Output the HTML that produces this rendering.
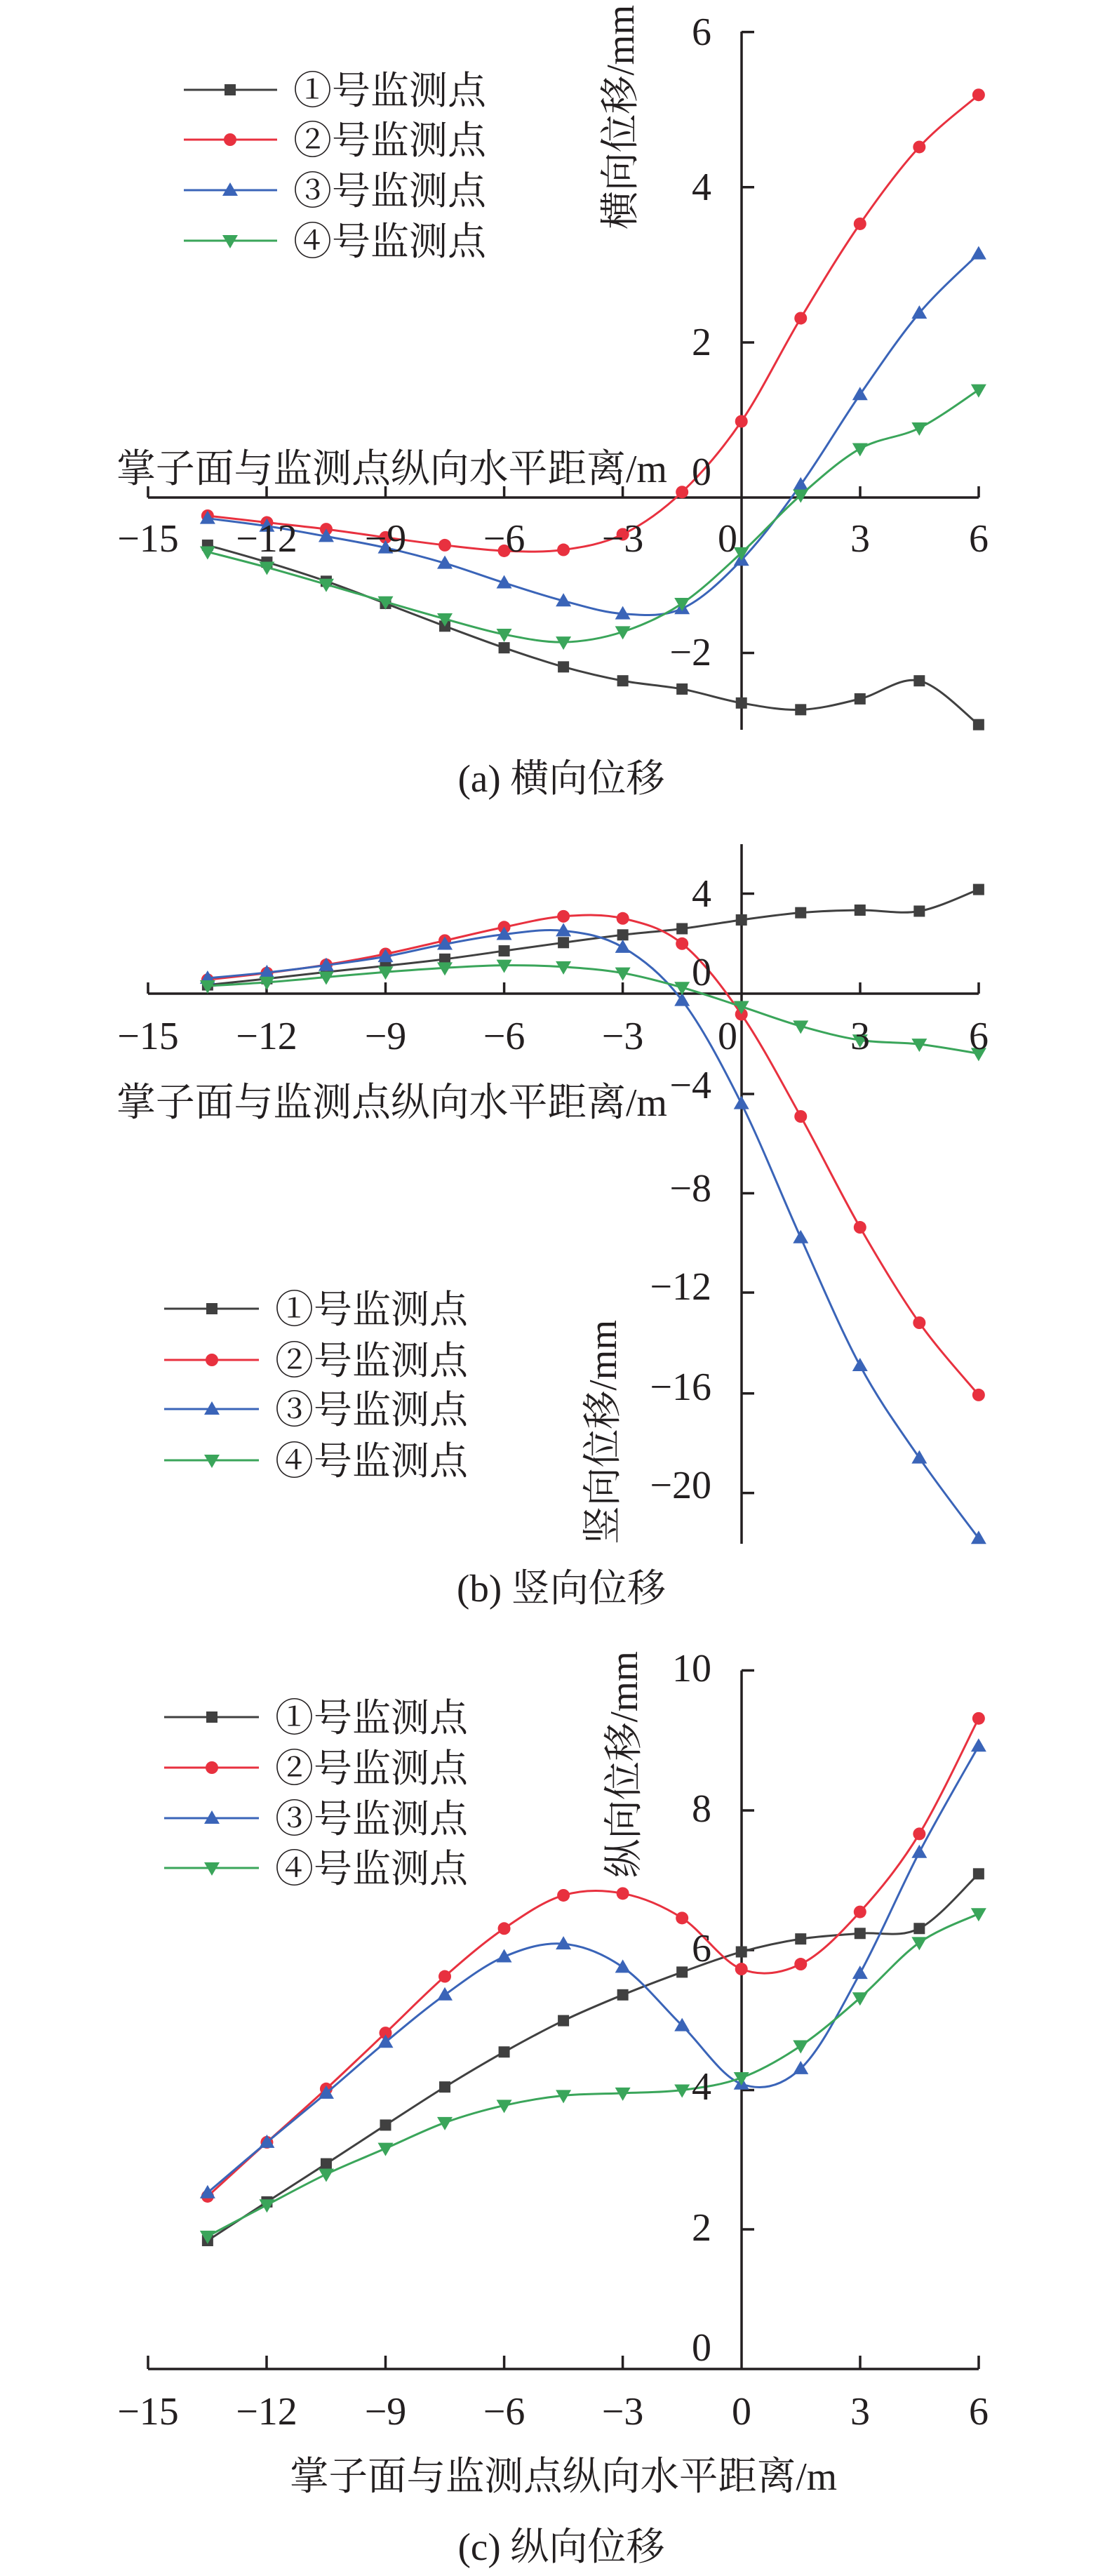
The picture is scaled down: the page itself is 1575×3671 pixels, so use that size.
<!DOCTYPE html>
<html><head><meta charset="utf-8"><style>
html,body{margin:0;padding:0;background:#fff}
svg{display:block}
text{font-family:"Liberation Serif","Noto Serif CJK SC",serif;fill:#231f20}
</style></head><body>
<svg id="s" width="1575" height="3671" viewBox="0 0 1575 3671" xmlns="http://www.w3.org/2000/svg">
<g stroke="#231f20" stroke-width="3.5" fill="none">
<!-- chart a -->
<line x1="1057" y1="45" x2="1057" y2="1040"/>
<line x1="211" y1="709" x2="1395" y2="709"/>
<path d="M1057 45.6H1075M1057 266.8H1075M1057 488H1075M1057 930.5H1075"/>
<path d="M211 709V693M380 709V693M549.5 709V693M718.6 709V693M887.6 709V693M1226 709V693M1395 709V693"/>
<!-- chart b -->
<line x1="1057" y1="1203" x2="1057" y2="2200"/>
<line x1="211" y1="1416" x2="1395" y2="1416"/>
<path d="M1057 1273.5H1075M1057 1559H1075M1057 1700.5H1075M1057 1842H1075M1057 1985.7H1075M1057 2127.6H1075"/>
<path d="M211 1416V1400M380 1416V1400M549.5 1416V1400M718.6 1416V1400M887.6 1416V1400M1226 1416V1400M1395 1416V1400"/>
<!-- chart c -->
<line x1="1057" y1="2380.5" x2="1057" y2="3376"/>
<line x1="211" y1="3376" x2="1395" y2="3376"/>
<path d="M1057 2380.5H1075M1057 2580H1075M1057 2779H1075M1057 2978.5H1075M1057 3177H1075"/>
<path d="M211 3376V3357M380 3376V3357M549.5 3376V3357M718.6 3376V3357M887.6 3376V3357M1226 3376V3357M1395 3376V3357"/>
</g>
<g id="series"></g>
<g font-size="56">
<g text-anchor="middle">
<text x="211" y="786">−15</text><text x="380" y="786">−12</text><text x="549.5" y="786">−9</text><text x="718.6" y="786">−6</text><text x="887.6" y="786">−3</text><text x="1037" y="786">0</text><text x="1226" y="786">3</text><text x="1395" y="786">6</text>
</g>
<g text-anchor="end">
<text x="1014" y="64">6</text><text x="1014" y="285">4</text><text x="1014" y="506">2</text><text x="1014" y="691">0</text><text x="1014" y="948">−2</text>
</g>
<g text-anchor="middle">
<text x="211" y="1495">−15</text><text x="380" y="1495">−12</text><text x="549.5" y="1495">−9</text><text x="718.6" y="1495">−6</text><text x="887.6" y="1495">−3</text><text x="1037" y="1495">0</text><text x="1226" y="1495">3</text><text x="1395" y="1495">6</text>
</g>
<g text-anchor="end">
<text x="1014" y="1292">4</text><text x="1014" y="1404">0</text><text x="1014" y="1565">−4</text><text x="1014" y="1712">−8</text><text x="1014" y="1852">−12</text><text x="1014" y="1995">−16</text><text x="1014" y="2135">−20</text>
</g>
<g text-anchor="middle">
<text x="211" y="3455">−15</text><text x="380" y="3455">−12</text><text x="549.5" y="3455">−9</text><text x="718.6" y="3455">−6</text><text x="887.6" y="3455">−3</text><text x="1057" y="3455">0</text><text x="1226" y="3455">3</text><text x="1395" y="3455">6</text>
</g>
<g text-anchor="end">
<text x="1014" y="2396">10</text><text x="1014" y="2596">8</text><text x="1014" y="2795">6</text><text x="1014" y="2992">4</text><text x="1014" y="3193">2</text><text x="1014" y="3364">0</text>
</g>
</g>
<g font-size="56">
<text x="166" y="687" textLength="785" lengthAdjust="spacingAndGlyphs">掌子面与监测点纵向水平距离/m</text>
<text x="166" y="1590" textLength="785" lengthAdjust="spacingAndGlyphs">掌子面与监测点纵向水平距离/m</text>
<text x="413" y="3548" textLength="780" lengthAdjust="spacingAndGlyphs">掌子面与监测点纵向水平距离/m</text>
<text transform="translate(903,327) rotate(-90)" textLength="320" lengthAdjust="spacingAndGlyphs">横向位移/mm</text>
<text transform="translate(878,2201) rotate(-90)" textLength="320" lengthAdjust="spacingAndGlyphs">竖向位移/mm</text>
<text transform="translate(908,2676) rotate(-90)" textLength="323" lengthAdjust="spacingAndGlyphs">纵向位移/mm</text>
</g>
<g font-size="55" text-anchor="middle">
<text x="800" y="1128">(a) 横向位移</text>
<text x="800" y="2282">(b) 竖向位移</text>
<text x="800" y="3648">(c) 纵向位移</text>
</g>
<g font-size="55">
<text x="418" y="148">①号监测点</text><text x="418" y="219">②号监测点</text><text x="418" y="291">③号监测点</text><text x="418" y="363">④号监测点</text>
<text x="392" y="1885">①号监测点</text><text x="392" y="1958">②号监测点</text><text x="392" y="2028">③号监测点</text><text x="392" y="2101">④号监测点</text>
<text x="392" y="2467">①号监测点</text><text x="392" y="2539">②号监测点</text><text x="392" y="2611">③号监测点</text><text x="392" y="2682">④号监测点</text>
</g>
</svg>
<script>
(function(){
var NS="http://www.w3.org/2000/svg";
var g=document.getElementById('series');
var cols=['#404040','#e8313f','#3a64b8','#3aa55a'];
var xs=[];for(var i=0;i<14;i++)xs.push((294+84*i)*1.0064);
var charts=[
 {off:0,f:0.735,d:[
 [1057,1090,1127,1170,1214,1256,1293,1320,1336,1363,1376,1355,1320,1405],
 [1000,1013,1026,1042,1057,1068,1066,1036,954,817,617,434,285,184],
 [1005,1020,1040,1062,1092,1130,1165,1190,1180,1086,940,765,607,492],
 [1070,1100,1133,1167,1200,1230,1245,1225,1170,1072,960,870,830,756]],
 leg:{x1:262,x2:395,m:328,ys:[128,199,271,343]}},
 {off:1150,f:0.735,d:[
 [345,333,320,308,295,279,263,248,236,219,205,200,202,160],
 [335,322,306,285,259,233,212,216,265,402,600,815,1000,1140],
 [332,321,307,290,266,247,240,272,375,575,835,1083,1262,1418],
 [347,340,330,320,312,307,310,322,350,387,425,452,460,478]],
 leg:{x1:234,x2:369,m:302,ys:[1865,1938,2008,2081]}},
 {off:2300,f:0.8755,d:[
 [1020,957,895,832,770,713,662,620,583,550,529,520,512,423],
 [948,860,773,682,590,512,458,455,495,578,570,485,358,170],
 [942,860,780,697,620,558,537,575,670,765,740,585,388,215],
 [1013,962,912,870,828,800,784,780,775,755,703,625,535,488]],
 leg:{x1:234,x2:369,m:302,ys:[2447,2519,2591,2662]}}
];
function el(n,a){var e=document.createElementNS(NS,n);for(var k in a)e.setAttribute(k,a[k]);g.appendChild(e);return e;}
function marker(t,x,y,c){
 if(t==0)el('rect',{x:x-8,y:y-8,width:16,height:16,fill:c});
 else if(t==1)el('circle',{cx:x,cy:y,r:9,fill:c});
 else if(t==2)el('path',{d:'M'+x+' '+(y-11)+'L'+(x+11)+' '+(y+8)+'L'+(x-11)+' '+(y+8)+'Z',fill:c});
 else el('path',{d:'M'+x+' '+(y+11)+'L'+(x+11)+' '+(y-8)+'L'+(x-11)+' '+(y-8)+'Z',fill:c});
}
charts.forEach(function(ch){
 ch.d.forEach(function(ys,s){
  var p=ys.map(function(y,i){return [xs[i],ch.off+y*ch.f];});
  var d='M'+p[0][0]+' '+p[0][1];
  for(var i=0;i<p.length-1;i++){
   var p0=p[i-1]||p[i],p1=p[i],p2=p[i+1],p3=p[i+2]||p[i+1];
   var c1=[p1[0]+(p2[0]-p0[0])/6,p1[1]+(p2[1]-p0[1])/6];
   var c2=[p2[0]-(p3[0]-p1[0])/6,p2[1]-(p3[1]-p1[1])/6];
   d+='C'+c1[0]+' '+c1[1]+' '+c2[0]+' '+c2[1]+' '+p2[0]+' '+p2[1];
  }
  el('path',{d:d,stroke:cols[s],'stroke-width':3,fill:'none'});
  p.forEach(function(q){marker(s,q[0],q[1],cols[s]);});
  var L=ch.leg,y=L.ys[s];
  el('line',{x1:L.x1,y1:y,x2:L.x2,y2:y,stroke:cols[s],'stroke-width':3});
  marker(s,L.m,y,cols[s]);
 });
});
})();
</script>
</body></html>
